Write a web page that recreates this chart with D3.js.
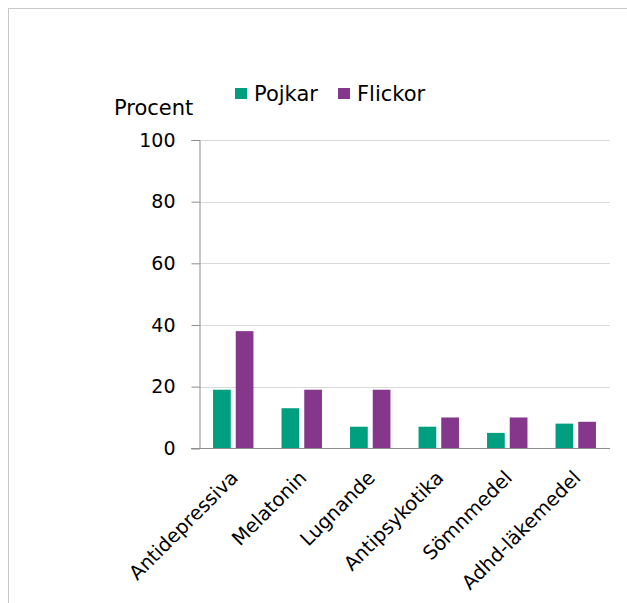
<!DOCTYPE html>
<html>
<head>
<meta charset="utf-8">
<script src="https://cdn.jsdelivr.net/npm/d3@7"></script>
<style>
  html, body { margin: 0; padding: 0; background: #fff; }
  svg { display: block; font-family: "DejaVu Sans", Verdana, sans-serif; }
</style>
</head>
<body>
<div id="chart"></div>
<script>
const categories = ["Antidepressiva", "Melatonin", "Lugnande", "Antipsykotika", "Sömnmedel", "Adhd-läkemedel"];
const seriesNames = ["Pojkar", "Flickor"];
const pojkar = [19, 13, 7, 7, 5, 8];
const flickor = [38, 19, 19, 10, 10, 8.6];
const yTicks = [0, 20, 40, 60, 80, 100];
const colors = ["#009f7f", "#85378c"];

const width = 627, height = 603;
const margin = { top: 140, right: 17, bottom: 155, left: 199 };

const svg = d3.select("#chart").append("svg")
  .attr("width", width)
  .attr("height", height);

// outer frame (only top and left edges fall inside the picture)
svg.append("rect")
  .attr("x", 8.5).attr("y", 8.5)
  .attr("width", 700).attr("height", 700)
  .attr("fill", "none")
  .attr("stroke", "#c8c8c8");

const x = d3.scaleBand()
  .domain(categories)
  .range([margin.left, width - margin.right])
  .paddingInner(0.41)
  .paddingOuter(0.205);

const xs = d3.scaleBand()
  .domain(seriesNames)
  .range([0, x.bandwidth()])
  .paddingInner(0.22);

const y = d3.scaleLinear()
  .domain([0, 100])
  .range([448.3, 140]);

// grid
svg.append("g")
  .selectAll("line")
  .data(yTicks.filter(d => d > 0))
  .enter().append("line")
  .attr("x1", margin.left).attr("x2", width - margin.right)
  .attr("y1", d => Math.round(y(d)) + 0.5).attr("y2", d => Math.round(y(d)) + 0.5)
  .attr("stroke", "#d9d9d9");

// bars
const data = categories.map((c, i) => ({ cat: c, vals: [pojkar[i], flickor[i]] }));
const groups = svg.append("g")
  .selectAll("g")
  .data(data)
  .enter().append("g")
  .attr("transform", d => `translate(${x(d.cat)},0)`);

groups.selectAll("rect")
  .data(d => d.vals.map((v, j) => ({ name: seriesNames[j], v, j })))
  .enter().append("rect")
  .attr("x", d => xs(d.name))
  .attr("width", xs.bandwidth())
  .attr("y", d => y(d.v))
  .attr("height", d => y(0) - y(d.v))
  .attr("fill", d => colors[d.j]);

// y axis
const yAxis = svg.append("g")
  .attr("transform", `translate(${margin.left + 0.5},0)`)
  .call(d3.axisLeft(y).tickValues(yTicks).tickSize(8).tickPadding(16));
yAxis.select(".domain").attr("stroke", "#8c8c8c");
yAxis.selectAll(".tick line").attr("stroke", "#8c8c8c");
yAxis.selectAll(".tick text")
  .attr("font-size", 19)
  .attr("font-family", "DejaVu Sans, Verdana, sans-serif")
  .attr("fill", "#000");

// x baseline
svg.append("line")
  .attr("x1", margin.left - 8).attr("x2", width - margin.right)
  .attr("y1", Math.round(y(0)) + 0.5).attr("y2", Math.round(y(0)) + 0.5)
  .attr("stroke", "#8c8c8c");

// category labels
svg.append("g")
  .selectAll("text")
  .data(categories)
  .enter().append("text")
  .attr("transform", d => `translate(${x(d) + x.bandwidth() / 2 + 6},479) rotate(-45)`)
  .attr("text-anchor", "end")
  .attr("font-size", 19.5)
  .attr("fill", "#000")
  .text(d => d);

// y title
svg.append("text")
  .attr("x", 114).attr("y", 115)
  .attr("font-size", 21)
  .attr("fill", "#000")
  .text("Procent");

// legend
const legendX = [235, 338];
const legend = svg.append("g")
  .selectAll("g")
  .data(seriesNames)
  .enter().append("g")
  .attr("transform", (d, i) => `translate(${legendX[i]},88)`);
legend.append("rect")
  .attr("width", 12).attr("height", 11)
  .attr("fill", (d, i) => colors[i]);
legend.append("text")
  .attr("x", 19).attr("y", 12.5)
  .attr("font-size", 21)
  .attr("fill", "#000")
  .text(d => d);
</script>
</body>
</html>
